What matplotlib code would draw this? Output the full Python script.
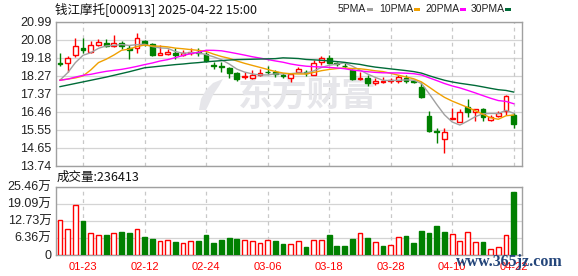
import matplotlib
matplotlib.use('Agg')
import matplotlib.pyplot as plt
from matplotlib.patches import Rectangle, Polygon
import numpy as np

# ---------------- data ----------------
dates = ['01-20', '01-21', '01-22', '01-23', '01-24', '01-27', '02-05', '02-06', '02-07', '02-10',
         '02-11', '02-12', '02-13', '02-14', '02-17', '02-18', '02-19', '02-20', '02-21', '02-24',
         '02-25', '02-26', '02-27', '02-28', '03-03', '03-04', '03-05', '03-06', '03-07', '03-10',
         '03-11', '03-12', '03-13', '03-14', '03-17', '03-18', '03-19', '03-20', '03-21', '03-24',
         '03-25', '03-26', '03-27', '03-28', '03-31', '04-01', '04-02', '04-03', '04-07', '04-08',
         '04-09', '04-10', '04-11', '04-14', '04-15', '04-16', '04-17', '04-18', '04-21', '04-22']

opens = [18.92, 18.93, 19.33, 19.65, 19.45, 19.83, 19.90, 19.77, 19.90, 19.69,
         19.65, 20.03, 19.87, 19.31, 19.38, 19.43, 19.33, 19.40, 19.45, 19.36,
         18.80, 18.76, 18.64, 18.42, 18.19, 18.15, 18.30, 18.47, 18.46, 18.31,
         18.16, 18.47, 18.45, 18.31, 18.98, 19.18, 18.90, 18.78, 18.55, 18.10,
         18.17, 17.92, 17.95, 17.98, 18.02, 18.17, 17.99, 17.72, 16.24, 15.49,
         15.10, 16.08, 15.96, 16.68, 16.44, 16.58, 16.04, 16.24, 16.51, 16.29]
highs = [19.40, 19.26, 20.15, 20.15, 20.03, 20.13, 20.13, 20.32, 20.00, 19.80,
         20.44, 20.09, 19.90, 19.82, 19.63, 19.66, 19.55, 19.65, 19.65, 19.45,
         18.96, 18.96, 18.70, 18.47, 18.47, 18.55, 18.62, 18.78, 18.55, 18.40,
         18.38, 18.70, 18.55, 19.05, 19.25, 19.30, 18.96, 18.91, 18.62, 18.47,
         18.30, 18.15, 18.20, 18.15, 18.30, 18.32, 18.05, 17.95, 16.50, 15.65,
         15.65, 16.66, 16.57, 17.10, 16.59, 16.62, 16.30, 16.50, 17.30, 16.41]
lows = [18.76, 18.47, 19.23, 19.40, 19.40, 19.77, 19.70, 19.70, 19.63, 19.13,
        19.43, 19.75, 19.28, 19.29, 19.30, 19.13, 19.25, 19.30, 19.28, 18.98,
        18.62, 18.45, 18.18, 18.02, 18.10, 18.13, 18.28, 18.35, 18.22, 18.18,
        17.97, 18.45, 18.25, 18.31, 18.82, 18.88, 18.76, 18.65, 18.05, 18.05,
        17.75, 17.82, 17.90, 17.88, 17.90, 17.92, 17.90, 17.14, 15.45, 14.90,
        14.38, 16.08, 15.96, 16.18, 16.00, 16.00, 16.00, 16.17, 16.28, 15.62]
closes = [18.85, 19.15, 19.77, 19.57, 19.80, 19.95, 19.77, 19.90, 19.78, 19.57,
          20.15, 19.87, 19.33, 19.43, 19.48, 19.33, 19.43, 19.48, 19.40, 19.03,
          18.76, 18.70, 18.42, 18.11, 18.28, 18.30, 18.42, 18.44, 18.36, 18.28,
          18.38, 18.59, 18.39, 18.92, 19.15, 18.93, 18.86, 18.74, 18.09, 18.16,
          17.92, 18.02, 18.00, 18.04, 18.22, 18.02, 17.95, 17.18, 15.48, 15.46,
          15.44, 16.14, 16.42, 16.46, 16.58, 16.18, 16.21, 16.41, 17.25, 15.84]
# volume in 万手
volumes = [13.1, 9.7, 18.8, 12.5, 8.1, 7.4, 7.4, 8.1, 8.6, 8.1,
           9.7, 6.7, 5.8, 5.0, 5.5, 4.7, 4.4, 5.0, 5.1, 7.4,
           4.4, 5.5, 6.2, 5.8, 5.5, 5.1, 4.4, 5.5, 5.1, 3.9,
           3.9, 5.1, 2.9, 5.5, 5.5, 7.4, 3.2, 3.2, 5.8, 8.0,
           6.2, 4.6, 3.2, 3.6, 6.6, 7.0, 4.5, 9.0, 8.25, 10.9,
           8.6, 7.75, 5.2, 8.55, 4.75, 4.85, 2.1, 2.9, 7.5, 23.6413]
first_vol_up = True
last_volume_label = '236413'

# moving-average values before a full window is available
ma5_head = [18.05, 18.42, 18.93, 19.30]
ma10_head = [18.05, 18.10, 18.16, 18.26, 18.56, 18.93, 19.10, 19.31, 19.55]
ma20_head = [18.04, 18.10, 18.20, 18.29, 18.34, 18.42, 18.49, 18.54, 18.59, 18.66,
             18.74, 18.83, 18.91, 19.01, 19.08, 19.18, 19.29, 19.38, 19.45]
ma30_head = [17.72, 17.80, 17.88, 17.96, 18.04, 18.12, 18.20, 18.29, 18.38, 18.47,
             18.57, 18.67, 18.71, 18.75, 18.79, 18.83, 18.86, 18.90, 18.93, 18.97,
             19.00, 19.03, 19.06, 19.08, 19.09, 19.10, 19.11, 19.12, 19.13]

price_ticks = [13.74, 14.65, 15.55, 16.46, 17.37, 18.27, 19.18, 20.08, 20.99]
vol_ticks = [0, 6.365, 12.73, 19.095, 25.46]
vol_tick_labels = ['0', '6.36万', '12.73万', '19.09万', '25.46万']
label_idx = [3, 11, 19, 27, 35, 43, 51, 59]

title = '钱江摩托[000913] 2025-04-22 15:00'
legend_names = ['5PMA', '10PMA', '20PMA', '30PMA']

# ---------------- style ----------------
RED = '#ff0000'
GREEN = '#008000'
MA_COLORS = ['#a0a0a0', '#f0a000', '#ff00ff', '#006b38']
GRID = '#d4d4d4'
SPINE = '#a0a0a0'
WM = '#e6e6ea'
CJK = ['Noto Sans CJK SC', 'DejaVu Sans']
LAT = ['Liberation Sans', 'Noto Sans CJK SC']


def moving_average(vals, n, head):
    out = list(head)
    for i in range(n - 1, len(vals)):
        out.append(float(np.mean(vals[i - n + 1:i + 1])))
    return out


W, H = 578, 276
fig = plt.figure(figsize=(W / 100, H / 100), dpi=100)
fig.patch.set_facecolor('white')


def fx(px):
    return px / W


def fy(py):
    return 1 - py / H


L, R = 55.5, 522.0
ax1 = fig.add_axes([fx(L), fy(165.7), fx(R - L), (165.7 - 21.7) / H])
ax2 = fig.add_axes([fx(L), fy(254.6), fx(R - L), (254.6 - 186.8) / H])

n = len(closes)
x = np.arange(n)
xlim = (-0.585, 60.08)

# ---- price panel ----
ax1.set_xlim(*xlim)
ax1.set_ylim(price_ticks[0], price_ticks[-1])
ax1.set_yticks(price_ticks)
ax1.set_yticklabels([f'{v:.2f}' for v in price_ticks])
ax1.set_xticks([])
for v in price_ticks:
    ax1.axhline(v, color=GRID, lw=0.9, zorder=0)
for i in label_idx:
    ax1.axvline(i, color='#c8c8c8', lw=0.9, dashes=(3, 3), zorder=0)

# watermark (logo + name)
ax1.text((307 - L) / (R - L), (165.7 - 95) / 144, '东方财富', transform=ax1.transAxes,
         fontsize=25, fontweight='bold', color=WM, ha='center', va='center',
         family=CJK, zorder=0.5)
logo_px = [(199, 110), (201, 99), (206, 90), (213, 83), (223, 79), (219, 86),
           (213, 95), (209, 104), (206, 110)]
fig.patches.append(Polygon([(fx(a), fy(b)) for a, b in logo_px], closed=True,
                           transform=fig.transFigure, facecolor=WM, edgecolor='none',
                           zorder=0.5))

up = [c >= o for o, c in zip(opens, closes)]
for i in range(n):
    col = RED if up[i] else GREEN
    ax1.vlines(x[i], lows[i], highs[i], color=col, lw=1.0, zorder=2)
body_bottom = [min(o, c) for o, c in zip(opens, closes)]
body_h = [max(abs(c - o), 0.012) for o, c in zip(opens, closes)]
ax1.bar(x, body_h, bottom=body_bottom, width=0.62,
        facecolor=['white' if u else GREEN for u in up],
        edgecolor=[RED if u else GREEN for u in up], linewidth=1.0, zorder=3)

mas = [moving_average(closes, 5, ma5_head), moving_average(closes, 10, ma10_head),
       moving_average(closes, 20, ma20_head), moving_average(closes, 30, ma30_head)]
for m, c in zip(mas, MA_COLORS):
    ax1.plot(x, m, color=c, lw=1.0, zorder=4)

# ---- volume panel ----
ax2.set_xlim(*xlim)
ax2.set_ylim(0, vol_ticks[-1])
ax2.set_yticks(vol_ticks)
ax2.set_yticklabels(vol_tick_labels)
for v in vol_ticks[1:]:
    ax2.axhline(v, color=GRID, lw=0.9, zorder=0)
for i in label_idx:
    ax2.axvline(i, color='#c8c8c8', lw=0.9, dashes=(3, 3), zorder=0)
vol_up = [first_vol_up] + [closes[i] >= closes[i - 1] for i in range(1, n)]
ax2.bar(x, volumes, width=0.62,
        facecolor=['white' if u else GREEN for u in vol_up],
        edgecolor=[RED if u else GREEN for u in vol_up], linewidth=1.0, zorder=3)
ax2.set_xticks(label_idx)
ax2.set_xticklabels([dates[i] for i in label_idx])

for ax in (ax1, ax2):
    for s in ax.spines.values():
        s.set_color(SPINE)
        s.set_linewidth(1.0)
    ax.tick_params(axis='y', length=0, pad=3, labelsize=9, labelcolor='#222222')
    for t in ax.get_yticklabels():
        t.set_family(LAT)
ax2.tick_params(axis='x', length=0, pad=5, labelsize=8, labelcolor=RED)
for t in ax2.get_xticklabels():
    t.set_family(LAT)

# ---- header texts ----
fig.text(fx(55), fy(9.5), title, fontsize=9, family=CJK, color='#111111', va='center', ha='left')
leg_x = [338, 379, 425, 471]
sw_x = [367, 414, 460, 505]
for name, lx, sx, c in zip(legend_names, leg_x, sw_x, MA_COLORS):
    fig.text(fx(lx), fy(9.5), name, fontsize=7.5, family=LAT, color='#222222', va='center', ha='left')
    fig.patches.append(Rectangle((fx(sx), fy(11)), 6 / W, 3 / H, transform=fig.transFigure,
                                 facecolor=c, edgecolor='none'))
fig.text(fx(57), fy(177.5), '成交量:' + last_volume_label, fontsize=9, family=CJK,
         color='#111111', va='center', ha='left')

# site watermark
fig.text(fx(456), fy(262), 'www.365jz.com', fontsize=11.5, family=['Liberation Serif'],
         fontweight='bold', color='#23457a', va='center', ha='left', zorder=10)

fig.savefig('out.png', dpi=100, facecolor='white')
